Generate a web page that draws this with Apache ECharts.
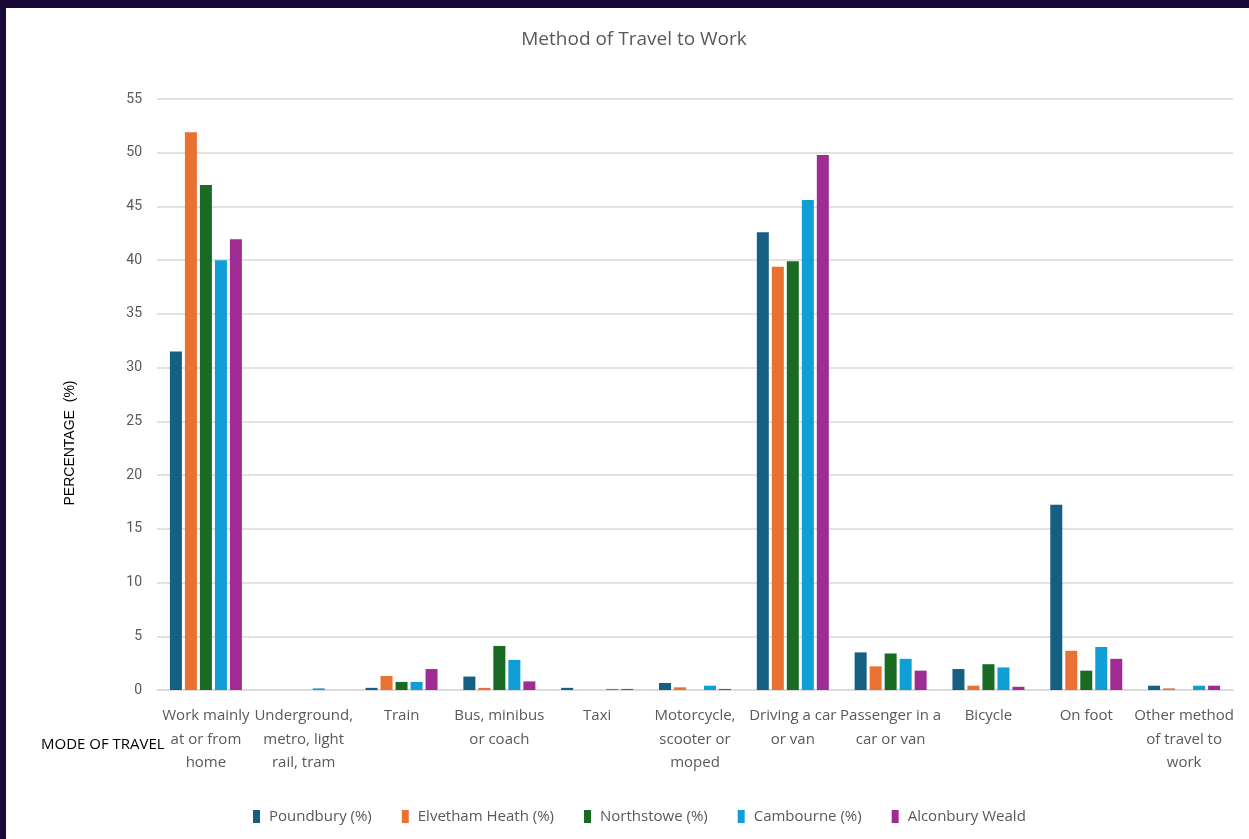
<!DOCTYPE html>
<html>
<head>
<meta charset="utf-8">
<script src="https://cdn.jsdelivr.net/npm/echarts@6/dist/echarts.min.js"></script>
<style>
  html, body { margin: 0; padding: 0; background: #170838; width: 1249px; height: 839px; overflow: hidden; }
  #chart { position: absolute; left: 6px; top: 8px; width: 1243px; height: 831px; background: #fff; }
</style>
</head>
<body>
<div id="chart"></div>
<script>
const categories = [
  'Work mainly\nat or from\nhome',
  'Underground,\nmetro, light\nrail, tram',
  'Train',
  'Bus, minibus\nor coach',
  'Taxi',
  'Motorcycle,\nscooter or\nmoped',
  'Driving a car\nor van',
  'Passenger in a\ncar or van',
  'Bicycle',
  'On foot',
  'Other method\nof travel to\nwork'
];
const seriesNames = ['Poundbury (%)', 'Elvetham Heath (%)', 'Northstowe (%)', 'Cambourne (%)', 'Alconbury Weald'];
const seriesColors = ['#156082', '#E97132', '#196B24', '#0F9ED5', '#A02B93'];

const poundbury  = [31.5, 0,   0.2,  1.25, 0.2, 0.65, 42.6, 3.5, 1.95, 17.25, 0.4];
const elvetham   = [51.9, 0,   1.3,  0.2,  0,   0.25, 39.4, 2.2, 0.4,  3.65,  0.15];
const northstowe = [47.0, 0,   0.75, 4.1,  0,   0,    39.9, 3.4, 2.4,  1.8,   0];
const cambourne  = [40.0, 0.15, 0.75, 2.8, 0.1, 0.4,  45.6, 2.9, 2.1,  4.0,   0.4];
const alconbury  = [41.95, 0,  1.95, 0.8,  0.1, 0.1,  49.8, 1.8, 0.3,  2.9,   0.4];

const yTicks = { min: 0, max: 55, interval: 5 };

const font = "'Open Sans', sans-serif";
const allData = [poundbury, elvetham, northstowe, cambourne, alconbury];

const chart = echarts.init(document.getElementById('chart'));
chart.setOption({
  animation: false,
  grid: { left: 151, right: 16, top: 91, bottom: 149 },
  graphic: [
    { type: 'text', x: 628, y: 32, style: { text: 'Method of Travel to Work', fill: '#595959', font: '19px ' + font, align: 'center', verticalAlign: 'middle' } },
    { type: 'text', x: 35, y: 737, style: { text: 'MODE OF TRAVEL', fill: '#000', font: '15px ' + font, verticalAlign: 'middle' } },
    { type: 'text', x: 64, y: 435, rotation: Math.PI / 2, style: { text: 'PERCENTAGE  (%)', fill: '#000', font: '14px Liberation Sans, Arial, sans-serif', align: 'center', verticalAlign: 'middle' } }
  ],
  legend: {
    bottom: 10,
    left: 242,
    itemWidth: 7,
    itemHeight: 13,
    itemGap: 30,
    icon: 'rect',
    textStyle: { color: '#595959', fontSize: 15, fontFamily: font, padding: [0, 0, 0, 4] },
    data: seriesNames
  },
  xAxis: {
    type: 'category',
    data: categories,
    axisLine: { lineStyle: { color: '#d9d9d9', width: 1.5 } },
    axisTick: { show: false },
    axisLabel: { interval: 0, color: '#595959', fontSize: 15, fontFamily: font, lineHeight: 23.5, margin: 14 }
  },
  yAxis: {
    type: 'value',
    min: yTicks.min,
    max: yTicks.max,
    interval: yTicks.interval,
    axisLine: { show: false },
    axisTick: { show: false },
    axisLabel: { color: '#595959', fontSize: 14, fontFamily: 'Roboto, sans-serif', margin: 15 },
    splitLine: { lineStyle: { color: '#d9d9d9', width: 1.5 } }
  },
  series: seriesNames.map((name, i) => ({
    name: name,
    type: 'bar',
    data: allData[i],
    barWidth: 12,
    barGap: '25%',
    itemStyle: { color: seriesColors[i] }
  }))
});
</script>
</body>
</html>
